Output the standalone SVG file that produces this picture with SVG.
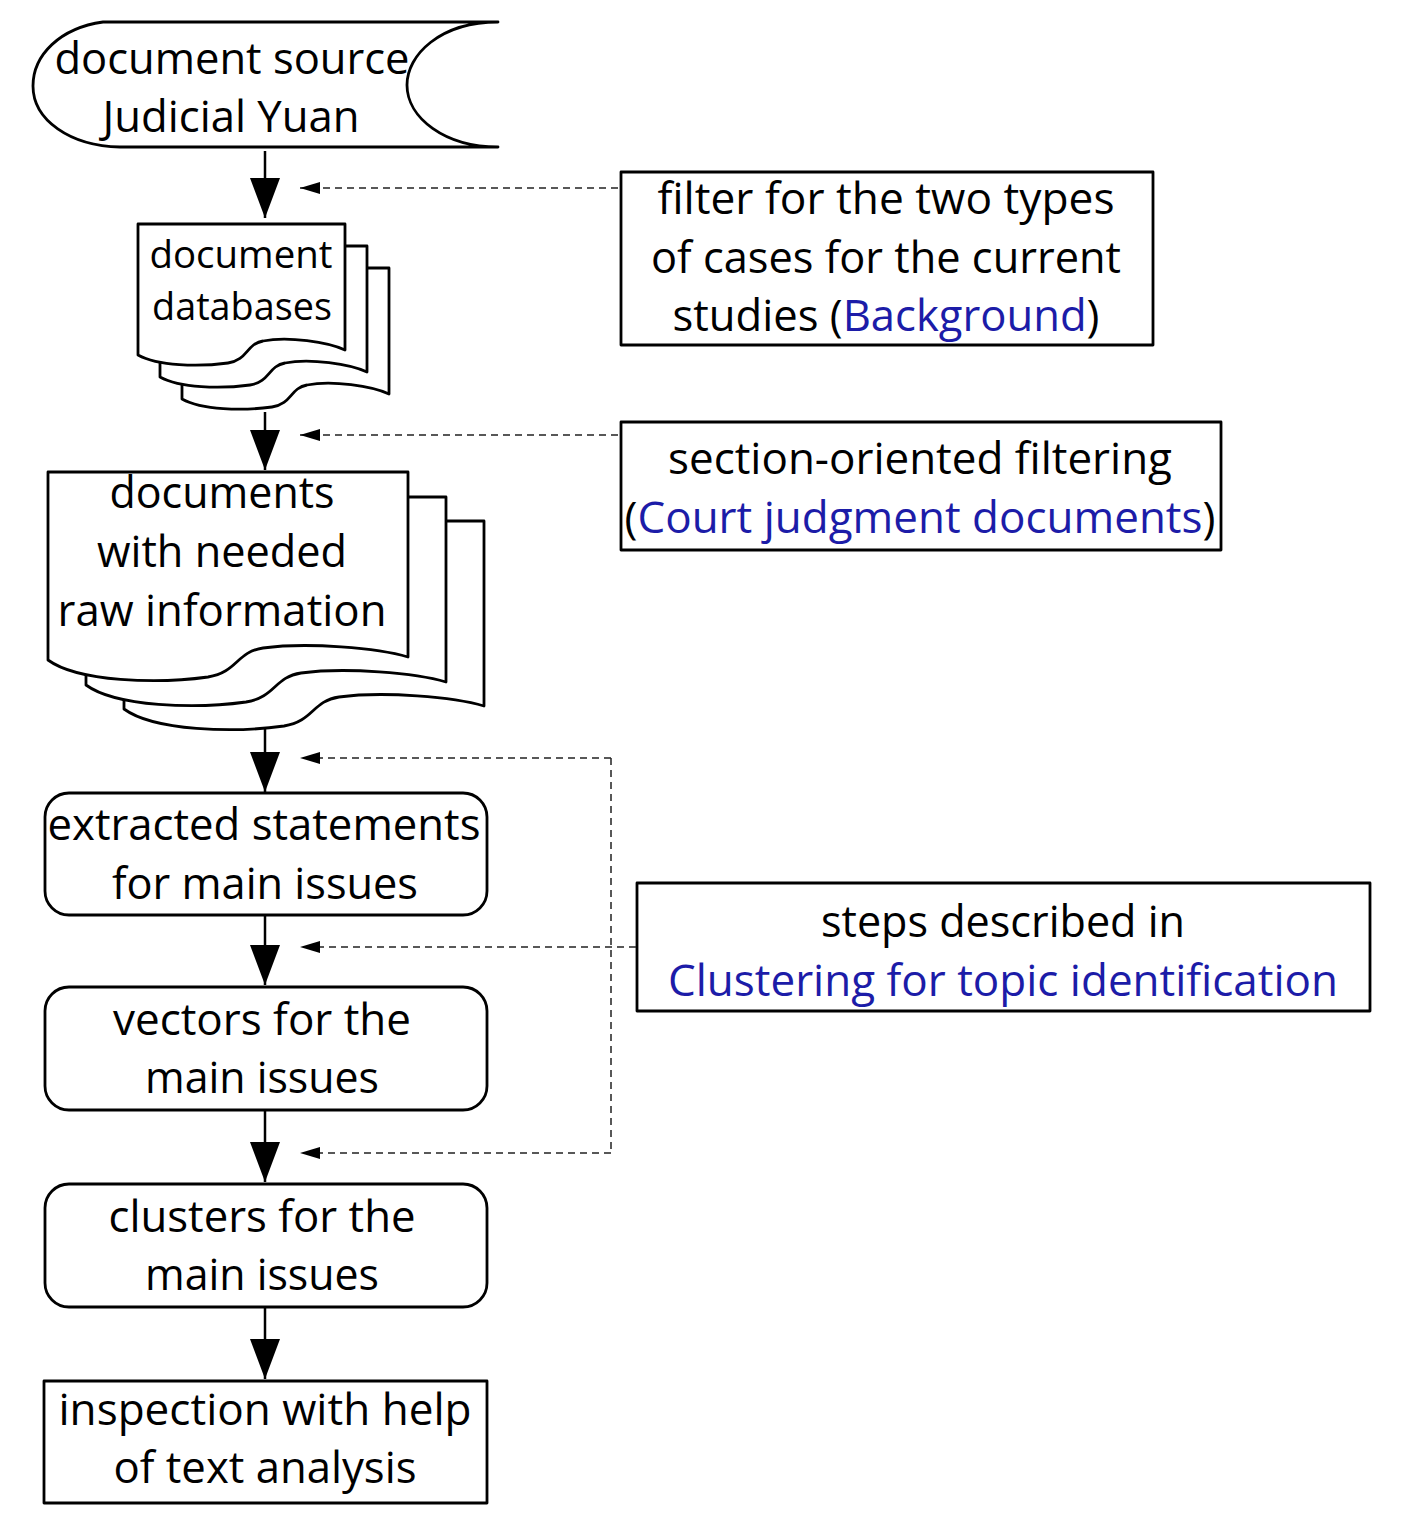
<svg xmlns="http://www.w3.org/2000/svg" width="1407" height="1527" viewBox="0 0 1407 1527">
<style>
.s{fill:#fff;stroke:#000;stroke-width:2.8;stroke-linejoin:round}
.t{font-family:"Open Sans","Noto Sans",sans-serif;font-size:43px;fill:#000;text-anchor:middle}
.sm{font-size:39px}
.b{fill:#1c1ca8}
.flow{stroke:#000;stroke-width:2.5;fill:none}
.dash{stroke:#222;stroke-width:1.5;stroke-dasharray:7 5;fill:none}
</style>
<defs>
<marker id="ah" markerUnits="userSpaceOnUse" markerWidth="40" markerHeight="30" refX="40" refY="15" orient="auto">
<path d="M0,0 L40,15 L0,30 Z" fill="#000"/>
</marker>
<marker id="dh" markerUnits="userSpaceOnUse" markerWidth="20" markerHeight="12" refX="20" refY="6" orient="auto">
<path d="M0,0 L20,6 L0,12 Z" fill="#000"/>
</marker>
<path id="docS" d="M0,0 H207 V126 C190,118 150,112 125,117 C108,120 110,136 90,139 C60,143 20,142 0,131 Z"/>
<path id="docL" d="M0,0 H360 V185 C330,176 260,170 215,176 C188,180 190,200 160,205 C110,212 30,210 0,188 Z"/>
</defs>

<g id="source">
<path class="s" d="M103,22 H498 C440,22 407,55 407,85 C407,118 445,147 498,147 H120 C70,146 33,120 33,86 C33,55 60,28 103,22 Z"/>
<text class="t" x="232" y="74" textLength="355" lengthAdjust="spacingAndGlyphs">document source</text>
<text class="t" x="231" y="132" textLength="257" lengthAdjust="spacingAndGlyphs">Judicial Yuan</text>
</g>

<g id="databases">
<use href="#docS" class="s" transform="translate(182,268)"/>
<use href="#docS" class="s" transform="translate(160,246)"/>
<use href="#docS" class="s" transform="translate(138,224)"/>
<text class="t sm" x="241" y="268" textLength="183" lengthAdjust="spacingAndGlyphs">document</text>
<text class="t sm" x="242" y="320" textLength="180" lengthAdjust="spacingAndGlyphs">databases</text>
</g>

<g id="rawdocs">
<use href="#docL" class="s" transform="translate(124,521)"/>
<use href="#docL" class="s" transform="translate(86,497)"/>
<use href="#docL" class="s" transform="translate(48,472)"/>
<text class="t" x="222" y="508" textLength="225" lengthAdjust="spacingAndGlyphs">documents</text>
<text class="t" x="222" y="567" textLength="250" lengthAdjust="spacingAndGlyphs">with needed</text>
<text class="t" x="222" y="626" textLength="329" lengthAdjust="spacingAndGlyphs">raw information</text>
</g>

<g id="extracted">
<rect class="s" x="45" y="793" width="442" height="122" rx="24"/>
<text class="t" x="264" y="840" textLength="433" lengthAdjust="spacingAndGlyphs">extracted statements</text>
<text class="t" x="265" y="899" textLength="306" lengthAdjust="spacingAndGlyphs">for main issues</text>
</g>

<g id="vectors">
<rect class="s" x="45" y="987" width="442" height="123" rx="24"/>
<text class="t" x="262" y="1035" textLength="298" lengthAdjust="spacingAndGlyphs">vectors for the</text>
<text class="t" x="262" y="1093" textLength="234" lengthAdjust="spacingAndGlyphs">main issues</text>
</g>

<g id="clusters">
<rect class="s" x="45" y="1184" width="442" height="123" rx="24"/>
<text class="t" x="262" y="1232" textLength="307" lengthAdjust="spacingAndGlyphs">clusters for the</text>
<text class="t" x="262" y="1290" textLength="234" lengthAdjust="spacingAndGlyphs">main issues</text>
</g>

<g id="inspection">
<rect class="s" x="44" y="1381" width="443" height="122"/>
<text class="t" x="265" y="1425" textLength="413" lengthAdjust="spacingAndGlyphs">inspection with help</text>
<text class="t" x="265" y="1483" textLength="303" lengthAdjust="spacingAndGlyphs">of text analysis</text>
</g>

<g id="noteBackground">
<rect class="s" x="621" y="172" width="532" height="173"/>
<text class="t" x="886" y="214" textLength="457" lengthAdjust="spacingAndGlyphs">filter for the two types</text>
<text class="t" x="886" y="273" textLength="470" lengthAdjust="spacingAndGlyphs">of cases for the current</text>
<text class="t" x="886" y="331" textLength="427" lengthAdjust="spacingAndGlyphs">studies (<tspan class="b">Background</tspan>)</text>
</g>

<g id="noteSection">
<rect class="s" x="621" y="422" width="600" height="128"/>
<text class="t" x="920" y="474" textLength="504" lengthAdjust="spacingAndGlyphs">section-oriented filtering</text>
<text class="t" x="920" y="533" textLength="591" lengthAdjust="spacingAndGlyphs">(<tspan class="b">Court judgment documents</tspan>)</text>
</g>

<g id="noteClustering">
<rect class="s" x="637" y="883" width="733" height="128"/>
<text class="t" x="1003" y="937" textLength="364" lengthAdjust="spacingAndGlyphs">steps described in</text>
<text class="t b" x="1003" y="996" textLength="670" lengthAdjust="spacingAndGlyphs">Clustering for topic identification</text>
</g>

<g id="connectors">
<path class="flow" d="M265,151 V218" marker-end="url(#ah)"/>
<path class="flow" d="M265,412 V470" marker-end="url(#ah)"/>
<path class="flow" d="M265,727 V792" marker-end="url(#ah)"/>
<path class="flow" d="M265,916 V985" marker-end="url(#ah)"/>
<path class="flow" d="M265,1111 V1182" marker-end="url(#ah)"/>
<path class="flow" d="M265,1308 V1379" marker-end="url(#ah)"/>
<path class="dash" d="M618,188 H300" marker-end="url(#dh)"/>
<path class="dash" d="M618,435 H300" marker-end="url(#dh)"/>
<path class="dash" d="M611,758 H300" marker-end="url(#dh)"/>
<path class="dash" d="M611,758 V1153"/>
<path class="dash" d="M636,947 H300" marker-end="url(#dh)"/>
<path class="dash" d="M611,1153 H300" marker-end="url(#dh)"/>
</g>
</svg>
